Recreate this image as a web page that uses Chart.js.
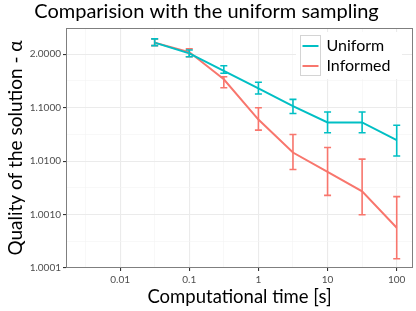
<!DOCTYPE html>
<html>
<head>
<meta charset="utf-8">
<script src="https://cdn.jsdelivr.net/npm/chart.js@4/dist/chart.umd.min.js"></script>
<style>
  html, body { margin: 0; padding: 0; background: #fff; }
  #wrap { width: 416px; height: 311px; }
</style>
</head>
<body>
<div id="wrap"><canvas id="c" width="416" height="311"></canvas></div>
<script>
// Computational time [s]
const timeValues = [0.0316, 0.1, 0.316, 1, 3.16, 10, 31.6, 100];
// Values stored as (alpha - 1), plotted on a log scale
const uniformExcess = [1.65, 1.04, 0.49, 0.23, 0.107, 0.053, 0.053, 0.0247];
const uniformLow    = [1.45, 0.90, 0.44, 0.18, 0.078, 0.034, 0.034, 0.0125];
const uniformHigh   = [1.94, 1.20, 0.61, 0.30, 0.143, 0.083, 0.083, 0.047];
const informedExcess = [1.65, 1.10, 0.34, 0.060, 0.0145, 0.00627, 0.00272, 0.000568];
const informedLow    = [1.45, 0.90, 0.236, 0.038, 0.00696, 0.00229, 0.00099, 0.000149];
const informedHigh   = [1.94, 1.26, 0.38, 0.0995, 0.0316, 0.018, 0.0109, 0.00217];

const xTickValues = [0.01, 0.1, 1, 10, 100];
const xTickLabels = ['0.01', '0.1', '1', '10', '100'];
const xMinorValues = [0.00316, 0.0316, 0.316, 3.16, 31.6];
const yTickValues = [0.0001, 0.001, 0.01, 0.1, 1];
const yTickLabels = ['1.0001', '1.0010', '1.0100', '1.1000', '2.0000'];
const yMinorValues = [0.000316, 0.00316, 0.0316, 0.316];

const seriesNames = ['Uniform', 'Informed'];
const TEAL = '#00BFC4', RED = '#F8766D';
const FONT = 'Lato';

function pts(xs, ys) { return xs.map((x, i) => ({ x: x, y: ys[i] })); }

const errorSets = [
  { low: informedLow, high: informedHigh, color: RED },
  { low: uniformLow, high: uniformHigh, color: TEAL }
];

const overlayPlugin = {
  id: 'overlay',
  afterDatasetsDraw(chart) {
    const ctx = chart.ctx, xs = chart.scales.x, ys = chart.scales.y;
    ctx.save();
    errorSets.forEach(set => {
      ctx.strokeStyle = set.color;
      ctx.lineWidth = 1.6;
      timeValues.forEach((t, i) => {
        const px = xs.getPixelForValue(t);
        const y1 = ys.getPixelForValue(set.low[i]);
        const y2 = ys.getPixelForValue(set.high[i]);
        ctx.beginPath();
        ctx.moveTo(px, y1); ctx.lineTo(px, y2);
        ctx.moveTo(px - 3.5, y1); ctx.lineTo(px + 3.5, y1);
        ctx.moveTo(px - 3.5, y2); ctx.lineTo(px + 3.5, y2);
        ctx.stroke();
      });
    });
    ctx.restore();
  },
  afterDraw(chart) {
    const ctx = chart.ctx, a = chart.chartArea;
    ctx.save();
    // panel border
    ctx.strokeStyle = '#7f7f7f';
    ctx.lineWidth = 1;
    ctx.strokeRect(Math.round(a.left) + 0.5, Math.round(a.top) + 0.5,
                   Math.round(a.right - a.left) - 1, Math.round(a.bottom - a.top) - 1);
    // legend
    const lx = 300, ly = 35;
    ctx.fillStyle = '#fff';
    ctx.fillRect(lx - 4, ly - 3, 106, 47);
    ctx.strokeStyle = '#d4d4d4';
    ctx.strokeRect(lx + 0.5, ly + 0.5, 20, 40);
    const colors = [TEAL, RED];
    ctx.font = '16px ' + FONT;
    ctx.textBaseline = 'middle';
    ctx.textAlign = 'left';
    seriesNames.forEach((name, i) => {
      const cy = ly + 11 + i * 20;
      ctx.strokeStyle = colors[i];
      ctx.lineWidth = 2;
      ctx.beginPath();
      ctx.moveTo(lx + 2.5, cy); ctx.lineTo(lx + 18.5, cy);
      ctx.stroke();
      ctx.fillStyle = '#000';
      ctx.fillText(name, lx + 26.5, cy);
    });
    ctx.restore();
  }
};

function gridColor(ctx, majors) {
  if (!ctx.tick) return 'transparent';
  return majors.some(v => Math.abs(Math.log10(v) - Math.log10(ctx.tick.value)) < 1e-6) ? '#ebebeb' : '#f4f4f4';
}
function isMajor(v, majors) {
  return majors.some(m => Math.abs(Math.log10(m) - Math.log10(v)) < 1e-6);
}

new Chart(document.getElementById('c'), {
  type: 'line',
  data: {
    datasets: [
      { label: seriesNames[0], data: pts(timeValues, uniformExcess), borderColor: TEAL,
        backgroundColor: TEAL, borderWidth: 2, pointRadius: 0, tension: 0, fill: false },
      { label: seriesNames[1], data: pts(timeValues, informedExcess), borderColor: RED,
        backgroundColor: RED, borderWidth: 2, pointRadius: 0, tension: 0, fill: false }
    ]
  },
  options: {
    responsive: false,
    animation: false,
    devicePixelRatio: 1,
    layout: { padding: { left: 0, right: 3, top: 0, bottom: 0 } },
    plugins: {
      legend: { display: false },
      tooltip: { enabled: false },
      title: {
        display: true,
        text: 'Comparision with the uniform sampling',
        color: '#000',
        font: { family: FONT, size: 20, weight: 'normal', lineHeight: 1.2 },
        padding: { top: 0, bottom: 4 }
      }
    },
    scales: {
      x: {
        type: 'logarithmic',
        min: 0.00165, max: 172,
        afterBuildTicks(scale) {
          scale.ticks = xTickValues.concat(xMinorValues).sort((a, b) => a - b).map(v => ({ value: v }));
        },
        afterFit(scale) { scale.height = 43; },
        ticks: {
          autoSkip: false, maxRotation: 0, padding: 2.5,
          color: '#4d4d4d', font: { family: FONT, size: 10 },
          callback(v) { const i = xTickValues.findIndex(m => Math.abs(Math.log10(m) - Math.log10(v)) < 1e-6); return i >= 0 ? xTickLabels[i] : ''; }
        },
        grid: {
          drawTicks: true, tickLength: 3,
          color: ctx => gridColor(ctx, xTickValues),
          lineWidth: ctx => (ctx.tick && isMajor(ctx.tick.value, xTickValues)) ? 1.1 : 0.6,
          tickColor: ctx => (ctx.tick && isMajor(ctx.tick.value, xTickValues)) ? '#333' : 'transparent'
        },
        border: { display: false },
        title: {
          display: true, text: 'Computational time [s]', color: '#000',
          font: { family: FONT, size: 18.5 }, padding: { top: 0, bottom: 3 }
        }
      },
      y: {
        type: 'logarithmic',
        min: 0.0001, max: 3.1,
        afterBuildTicks(scale) {
          scale.ticks = yTickValues.concat(yMinorValues).sort((a, b) => a - b).map(v => ({ value: v }));
        },
        afterFit(scale) { scale.width = 66; },
        ticks: {
          autoSkip: false, padding: 2,
          color: '#4d4d4d', font: { family: FONT, size: 10 },
          callback(v) { const i = yTickValues.findIndex(m => Math.abs(Math.log10(m) - Math.log10(v)) < 1e-6); return i >= 0 ? yTickLabels[i] : ''; }
        },
        grid: {
          drawTicks: true, tickLength: 3,
          color: ctx => gridColor(ctx, yTickValues),
          lineWidth: ctx => (ctx.tick && isMajor(ctx.tick.value, yTickValues)) ? 1.1 : 0.6,
          tickColor: ctx => (ctx.tick && isMajor(ctx.tick.value, yTickValues)) ? '#333' : 'transparent'
        },
        border: { display: false },
        title: {
          display: true, text: 'Quality of the solution - α', color: '#000',
          font: { family: FONT, size: 19 }, padding: { top: 4.6, bottom: 0 }
        }
      }
    }
  },
  plugins: [overlayPlugin]
});
</script>
</body>
</html>
